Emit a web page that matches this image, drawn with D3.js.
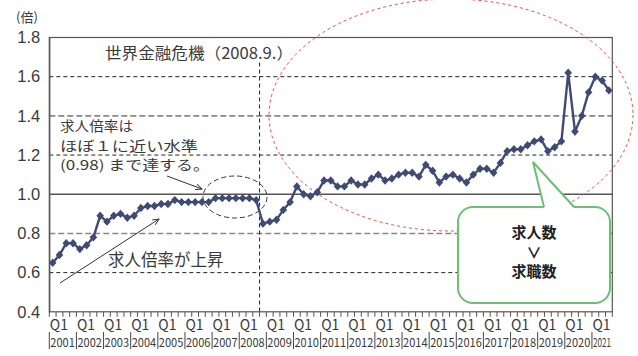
<!DOCTYPE html>
<html lang="ja">
<head>
<meta charset="UTF-8" />
<title>求人倍率</title>
<style>
  body { margin: 0; background: #fff; }
  svg { display: block; font-family: "Noto Sans CJK JP", "Noto Sans", sans-serif; }
  .txt { fill: #3a3a3a; }
</style>
</head>
<body>
<div id="chart"></div>
<script src="https://d3js.org/d3.v7.min.js"></script>
<script>
// Years on the axis (2021 only runs to Q3)
const years = d3.range(2001, 2022);
const quarterLabel = "Q1";

// Ratio of job openings to applicants, quarterly 2001Q1 .. 2021Q3
const ratio = [
  0.65, 0.69, 0.75, 0.75,   // 2001
  0.72, 0.74, 0.78, 0.89,   // 2002
  0.86, 0.89, 0.90, 0.88,   // 2003
  0.89, 0.93, 0.94, 0.94,   // 2004
  0.95, 0.95, 0.97, 0.96,   // 2005
  0.96, 0.96, 0.96, 0.96,   // 2006
  0.98, 0.98, 0.98, 0.98,   // 2007
  0.98, 0.98, 0.97, 0.85,   // 2008
  0.86, 0.87, 0.92, 0.96,   // 2009
  1.04, 1.00, 0.99, 1.01,   // 2010
  1.07, 1.07, 1.04, 1.04,   // 2011
  1.07, 1.05, 1.05, 1.08,   // 2012
  1.10, 1.07, 1.08, 1.10,   // 2013
  1.11, 1.11, 1.09, 1.15,   // 2014
  1.12, 1.06, 1.09, 1.10,   // 2015
  1.08, 1.06, 1.10, 1.13,   // 2016
  1.13, 1.11, 1.16, 1.22,   // 2017
  1.23, 1.23, 1.25, 1.27,   // 2018
  1.28, 1.22, 1.24, 1.27,   // 2019
  1.62, 1.32, 1.40, 1.52,   // 2020
  1.60, 1.58, 1.53          // 2021
];

const yTicks = [0.4, 0.6, 0.8, 1.0, 1.2, 1.4, 1.6, 1.8];
const lehmanQuarter = "2008Q4";   // dashed line sits before this quarter

// quarter keys built from the arrays above
const quarters = ratio.map((v, i) => `${years[Math.floor(i / 4)]}Q${i % 4 + 1}`);
const data = ratio.map((v, i) => ({ q: quarters[i], v: v }));

const W = 638, H = 356;
const m = { left: 49.3, right: 612.3, top: 37.5, bottom: 311.8 };

const svg = d3.select("#chart").append("svg")
  .attr("width", W).attr("height", H);

const defs = svg.append("defs");
defs.append("marker")
  .attr("id", "arrow")
  .attr("viewBox", "0 0 10 10")
  .attr("refX", 9).attr("refY", 5)
  .attr("markerWidth", 7).attr("markerHeight", 7)
  .attr("markerUnits", "userSpaceOnUse")
  .attr("orient", "auto")
  .append("path")
  .attr("d", "M0,1L9,5L0,9")
  .attr("fill", "none")
  .attr("stroke", "#333")
  .attr("stroke-width", 1.3);

const x = d3.scaleBand()
  .domain(quarters)
  .range([m.left, m.right])
  .paddingInner(0).paddingOuter(0);

const y = d3.scaleLinear()
  .domain([0.4, 1.8])
  .range([m.bottom, m.top]);

const cx = d => x(d.q) + x.bandwidth() / 2;

// Gridlines
const gridStyle = {
  0.6: { c: "#222", w: 1, dash: "4,3" },
  0.8: { c: "#888", w: 1.6, dash: "6,3" },
  1.0: { c: "#555", w: 1.3, dash: null },
  1.2: { c: "#222", w: 1, dash: "4,3" },
  1.4: { c: "#888", w: 1.6, dash: "6,3" },
  1.6: { c: "#222", w: 1, dash: "4,3" }
};
svg.append("g").selectAll("line")
  .data(yTicks.filter(t => gridStyle[t]))
  .join("line")
  .attr("x1", m.left).attr("x2", m.right)
  .attr("y1", d => y(d)).attr("y2", d => y(d))
  .attr("stroke", d => gridStyle[d].c)
  .attr("stroke-width", d => gridStyle[d].w)
  .attr("stroke-dasharray", d => gridStyle[d].dash);

// Frame
svg.append("rect")
  .attr("x", m.left).attr("y", m.top)
  .attr("width", m.right - m.left).attr("height", m.bottom - m.top)
  .attr("fill", "none")
  .attr("stroke", "#555")
  .attr("stroke-width", 1.2);

// Lehman shock line
svg.append("line")
  .attr("x1", x(lehmanQuarter)).attr("x2", x(lehmanQuarter))
  .attr("y1", m.top + 25).attr("y2", m.bottom)
  .attr("stroke", "#222")
  .attr("stroke-dasharray", "4,3");

// Y axis
const yAxis = svg.append("g")
  .attr("transform", `translate(${m.left},0)`)
  .call(d3.axisLeft(y).tickValues(yTicks).tickFormat(d3.format(".1f")).tickSize(0).tickPadding(9));
yAxis.select(".domain").attr("stroke", "#555").attr("stroke-width", 1.2);
yAxis.selectAll("text").attr("class", "txt").style("font-size", "16.5px").attr("fill", "#3a3a3a");

svg.append("text")
  .attr("class", "txt")
  .attr("x", 27).attr("y", 22)
  .attr("text-anchor", "middle")
  .style("font-size", "13px")
  .text("(倍)");

// X axis: quarter ticks
const bounds = quarters.map(q => x(q)).concat([x(quarters[quarters.length - 1]) + x.bandwidth()]);
svg.append("g").selectAll("line")
  .data(bounds)
  .join("line")
  .attr("x1", d => d).attr("x2", d => d)
  .attr("y1", m.bottom).attr("y2", m.bottom + 5)
  .attr("stroke", "#555");

const yearStarts = years.map(yr => `${yr}Q1`);
const xg = svg.append("g");
xg.selectAll("text.q")
  .data(yearStarts)
  .join("text")
  .attr("class", "txt q")
  .attr("x", d => x(d) + 0.5)
  .attr("y", 330)
  .style("font-size", "14px")
  .text(quarterLabel);

xg.selectAll("line.sep")
  .data(yearStarts)
  .join("line")
  .attr("class", "sep")
  .attr("x1", d => x(d)).attr("x2", d => x(d))
  .attr("y1", 332).attr("y2", 349)
  .attr("stroke", "#444");

xg.selectAll("text.yr")
  .data(years)
  .join("text")
  .attr("class", "txt yr")
  .attr("x", d => x(`${d}Q1`) + 1)
  .attr("y", 346.5)
  .attr("textLength", d => d === 2021 ? 18 : 24.5)
  .attr("lengthAdjust", "spacingAndGlyphs")
  .style("font-size", "12px")
  .text(d => d);

// Annotations behind the line
svg.append("ellipse")
  .attr("cx", 451).attr("cy", 115)
  .attr("rx", 182).attr("ry", 116)
  .attr("fill", "none")
  .attr("stroke", "#e8464d")
  .attr("stroke-width", 1)
  .attr("stroke-dasharray", "3,3");

svg.append("ellipse")
  .attr("cx", 235).attr("cy", 197)
  .attr("rx", 32).attr("ry", 21)
  .attr("fill", "none")
  .attr("stroke", "#333")
  .attr("stroke-width", 1)
  .attr("stroke-dasharray", "5,3");

// Series line + diamonds
const lineGen = d3.line().x(cx).y(d => y(d.v));
svg.append("path")
  .datum(data)
  .attr("d", lineGen)
  .attr("fill", "none")
  .attr("stroke", "#3f4b75")
  .attr("stroke-width", 2.4);

svg.append("g").selectAll("path")
  .data(data)
  .join("path")
  .attr("transform", d => `translate(${cx(d)},${y(d.v)})`)
  .attr("d", "M0,-4.2L3.8,0L0,4.2L-3.8,0Z")
  .attr("fill", "#3f4b75");

// Text annotations
svg.append("text")
  .attr("class", "txt")
  .attr("x", 105).attr("y", 59)
  .attr("textLength", 188)
  .attr("lengthAdjust", "spacingAndGlyphs")
  .style("font-size", "15.5px")
  .text("世界金融危機（2008.9.）");

const note = svg.append("text")
  .attr("class", "txt")
  .style("font-size", "13.5px");
[["求人倍率は", 73], ["ほぼ１に近い水準", 138], ["(0.98) まで達する。", 150]].forEach(([s, len], i) => {
  note.append("tspan")
    .attr("x", 60).attr("y", 131 + i * 19.6)
    .attr("textLength", len)
    .attr("lengthAdjust", "spacingAndGlyphs")
    .text(s);
});

svg.append("line")
  .attr("x1", 167).attr("y1", 176)
  .attr("x2", 202).attr("y2", 189)
  .attr("stroke", "#333").attr("stroke-width", 1)
  .attr("marker-end", "url(#arrow)");

svg.append("line")
  .attr("x1", 60).attr("y1", 283)
  .attr("x2", 159).attr("y2", 219)
  .attr("stroke", "#333").attr("stroke-width", 1)
  .attr("marker-end", "url(#arrow)");

svg.append("text")
  .attr("class", "txt")
  .attr("x", 108).attr("y", 266)
  .style("font-size", "16.5px")
  .text("求人倍率が上昇");

// Green callout
const green = "#6cc070";
svg.append("rect")
  .attr("x", 458).attr("y", 207)
  .attr("width", 152).attr("height", 96)
  .attr("rx", 15)
  .attr("fill", "#fff")
  .attr("stroke", green)
  .attr("stroke-width", 2);
svg.append("path")
  .attr("d", "M544,208L533,162L574,208Z")
  .attr("fill", "#fff")
  .attr("stroke", "none");
svg.append("path")
  .attr("d", "M544,207L533,162L574,207")
  .attr("fill", "none")
  .attr("stroke", green)
  .attr("stroke-width", 2);

const box = svg.append("text")
  .attr("text-anchor", "middle")
  .attr("fill", "#222")
  .style("font-size", "15px")
  .style("font-weight", "bold");
["求人数", "∨", "求職数"].forEach((s, i) => {
  box.append("tspan").attr("x", 534).attr("y", 238 + i * 19.5).text(s);
});
</script>
</body>
</html>
